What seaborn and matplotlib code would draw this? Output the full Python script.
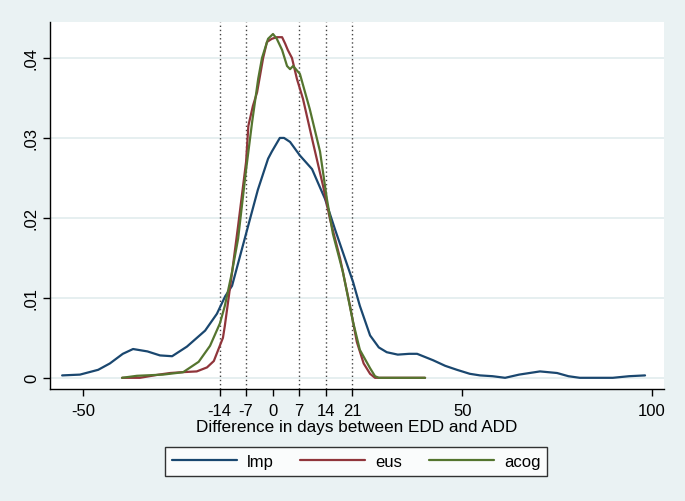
import numpy as np
import pandas as pd
import seaborn as sns
import matplotlib.pyplot as plt

# density curves
lmp_x = [-55.5, -50.8, -46, -42.9, -39.5, -36.8, -33, -29.7, -26.5, -22.6, -17.8, -14.7,
         -12.5, -10.7, -7.3, -3.9, -1.2, -0.2, 1.9, 3.0, 4.6, 7.2, 10.4, 12.5, 13.8, 16.5,
         19.1, 21.2, 23.0, 25.7, 28, 30.1, 33, 36, 38.1, 42.3, 45.5, 48.6, 52, 54.7, 58,
         61.3, 65, 70.5, 75.0, 78, 81.0, 89.7, 94, 98.2]
lmp_y = [0.0003, 0.0004, 0.0010, 0.0018, 0.0030, 0.0036, 0.0033, 0.0028, 0.0027, 0.0039,
         0.0059, 0.0080, 0.0102, 0.0115, 0.0175, 0.0235, 0.0274, 0.0283, 0.0300, 0.0300,
         0.0295, 0.0278, 0.0261, 0.0238, 0.0224, 0.0185, 0.0149, 0.0120, 0.0090, 0.0053,
         0.0038, 0.0032, 0.0029, 0.0030, 0.0030, 0.0022, 0.0015, 0.0010, 0.0005, 0.0003,
         0.0002, 0.0000, 0.0004, 0.0008, 0.0006, 0.0002, 0.0000, 0.0000, 0.0002, 0.0003]

eus_x = [-39.7, -35, -30, -27, -24, -20, -17.3, -15.5, -13.1, -12.6, -10.8, -9.1, -7.0,
         -6.4, -5.2, -4.1, -2.5, -1.5, -0.2, 1.1, 2.5, 3.3, 4.0, 5.1, 6.4, 8.0, 10.6, 13.3,
         15.1, 17.8, 20.4, 22.2, 24, 25.7, 27, 40.2]
eus_y = [0.0, 0.0, 0.0004, 0.0006, 0.0007, 0.0008, 0.0013, 0.0021, 0.0050, 0.0065, 0.0128,
         0.0190, 0.0270, 0.0315, 0.0340, 0.0357, 0.0400, 0.0420, 0.0424, 0.0426, 0.0426,
         0.0418, 0.0410, 0.0400, 0.0374, 0.0349, 0.0295, 0.0240, 0.0199, 0.0149, 0.0090,
         0.0045, 0.0018, 0.0005, 0.0, 0.0]

acog_x = [-39.7, -35.8, -28.9, -23.6, -19.5, -16.5, -13.9, -12.6, -10.8, -9.1, -7.0, -5.4,
          -3.8, -2.8, -1.2, 0.1, 1.1, 2.5, 3.8, 4.6, 5.4, 7.2, 9.8, 12.5, 14.3, 15.9, 18.5,
          21.2, 23, 25.7, 27, 28, 40.2]
acog_y = [0.0, 0.00025, 0.0004, 0.0007, 0.0020, 0.0040, 0.0068, 0.0090, 0.0130, 0.0174,
          0.0260, 0.0320, 0.0374, 0.0400, 0.0424, 0.0430, 0.0424, 0.0410, 0.0390, 0.0386,
          0.0390, 0.0380, 0.0336, 0.0283, 0.0224, 0.0180, 0.0133, 0.0070, 0.0035, 0.0012,
          0.0002, 0.0, 0.0]

series = ["lmp", "eus", "acog"]
colors = ["#1A476F", "#90353B", "#55752F"]
ref_days = [-14, -7, 7, 14, 21]
x_ticks = [-50, -14, -7, 0, 7, 14, 21, 50, 100]
y_ticks = [0, 0.01, 0.02, 0.03, 0.04]
y_tick_labels = ["0", ".01", ".02", ".03", ".04"]

df = pd.concat(
    [
        pd.DataFrame({"days": lmp_x, "density": lmp_y, "method": "lmp"}),
        pd.DataFrame({"days": eus_x, "density": eus_y, "method": "eus"}),
        pd.DataFrame({"days": acog_x, "density": acog_y, "method": "acog"}),
    ],
    ignore_index=True,
)

sns.set_theme(style="white")
plt.rcParams.update(
    {
        "font.family": ["Liberation Sans", "DejaVu Sans"],
        "axes.edgecolor": "black",
        "xtick.color": "black",
        "ytick.color": "black",
        "text.color": "black",
        "axes.labelcolor": "black",
    }
)

bg = "#EAF2F3"
fig = plt.figure(figsize=(6.85, 5.02), dpi=100, facecolor=bg)
ax = fig.add_axes([50 / 685, 112 / 502, 614 / 685, 367 / 502])
ax.set_facecolor("white")

for yv in y_ticks:
    ax.axhline(yv, color="#E2ECEE", linewidth=1.2, zorder=0)
for d in ref_days:
    ax.axvline(d, color="#444444", linewidth=1.0, linestyle=(0, (1, 2)), zorder=1)

sns.lineplot(
    data=df,
    x="days",
    y="density",
    hue="method",
    hue_order=series,
    palette=colors,
    sort=False,
    estimator=None,
    linewidth=1.6,
    ax=ax,
    zorder=3,
)

ax.set_xlim(-58.7, 103.2)
ax.set_ylim(-0.0014, 0.0445)
ax.set_xticks(x_ticks)
ax.set_xticklabels([str(t) for t in x_ticks], fontsize=12)
ax.set_yticks(y_ticks)
ax.set_yticklabels(y_tick_labels, fontsize=12, rotation=90, va="center")
ax.tick_params(axis="x", direction="out", length=5, width=1.0, bottom=True, pad=5)
ax.tick_params(axis="y", direction="out", length=5, width=1.0, left=True, pad=3)

for s in ["top", "right"]:
    ax.spines[s].set_visible(False)
for s in ["left", "bottom"]:
    ax.spines[s].set_linewidth(1.0)

ax.set_xlabel("Difference in days between EDD and ADD", fontsize=12.3, labelpad=1)
ax.set_ylabel("")

ax.legend().remove()
handles = ax.get_lines()[-3:]
leg = fig.legend(
    handles,
    series,
    loc="center",
    bbox_to_anchor=(0.52, 0.079),
    ncol=3,
    fontsize=12,
    handlelength=3.9,
    handletextpad=0.6,
    columnspacing=1.6,
    frameon=True,
    fancybox=False,
    borderpad=0.4,
)
leg.get_frame().set_edgecolor("black")
leg.get_frame().set_linewidth(1.0)
leg.get_frame().set_facecolor("white")

fig.savefig("out.png", dpi=100, facecolor=bg)
